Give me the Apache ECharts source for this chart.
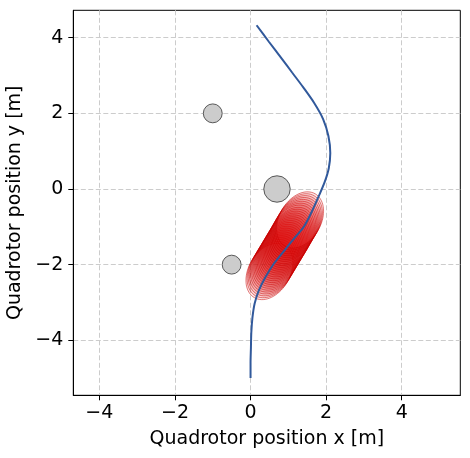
<!DOCTYPE html>
<html>
<head>
<meta charset="utf-8">
<script src="https://cdn.jsdelivr.net/npm/echarts@6/dist/echarts.min.js"></script>
<style>
html,body{margin:0;padding:0;background:#fff;}
#c{width:470px;height:458px;}
</style>
</head>
<body>
<div id="c"></div>
<script>
// Tick values
var xTicks = [-4, -2, 0, 2, 4];
var yTicks = [-4, -2, 0, 2, 4];

// Obstacles: [x, y, radius]
var obstacles = [
  [-1.0, 2.0, 0.25],
  [0.7, 0.0, 0.35],
  [-0.5, -2.0, 0.25]
];

// Trajectory (x, y)
var trajectory = [
  [0.00,-5.00],[0.00,-4.60],[0.01,-4.20],[0.02,-3.80],[0.05,-3.40],[0.11,-3.02],
  [0.22,-2.68],[0.40,-2.32],[0.62,-1.97],[0.90,-1.62],[1.16,-1.30],[1.41,-1.00],
  [1.62,-0.60],[1.80,-0.20],[1.96,0.18],[2.07,0.55],[2.11,0.95],[2.06,1.40],
  [1.92,1.85],[1.68,2.28],[1.40,2.68],[1.10,3.08],[0.80,3.48],[0.48,3.90],[0.16,4.33]
];

// Uncertainty ellipses: centers
var ellipseCenters = [
  [0.50,-2.18],[0.53,-2.13],[0.56,-2.08],[0.59,-2.03],[0.62,-1.98],[0.65,-1.93],
  [0.68,-1.88],[0.71,-1.83],[0.74,-1.78],[0.77,-1.73],[0.80,-1.68],[0.83,-1.63],
  [0.86,-1.58],[0.89,-1.53],[0.92,-1.48],[0.95,-1.43],[0.98,-1.38],[1.01,-1.33],
  [1.04,-1.28],[1.07,-1.23],[1.10,-1.17],[1.13,-1.12],[1.16,-1.07],[1.19,-1.02],
  [1.22,-0.97],[1.25,-0.92],[1.28,-0.87],[1.31,-0.82]
];
// Ellipse semi-axes and orientation (degrees from x axis)
var ellipseA = 0.80;
var ellipseB = 0.55;
var ellipseAngle = 60;

var ellipseData = ellipseCenters.map(function (c) { return [c[0], c[1], ellipseA, ellipseB, ellipseAngle]; });

function fmt(v) { return v < 0 ? '\u2212' + Math.abs(v) : String(v); }

var FONT = 'DejaVu Sans';
var FS = 19;
var chart = echarts.init(document.getElementById('c'), null, {renderer: 'canvas'});

function ellipseRender(params, api) {
  var cx = api.value(0), cy = api.value(1), a = api.value(2), b = api.value(3), ang = api.value(4) * Math.PI / 180;
  var pts = [];
  var n = 72;
  for (var i = 0; i < n; i++) {
    var t = 2 * Math.PI * i / n;
    var ex = a * Math.cos(t), ey = b * Math.sin(t);
    var x = cx + ex * Math.cos(ang) - ey * Math.sin(ang);
    var y = cy + ex * Math.sin(ang) + ey * Math.cos(ang);
    pts.push(api.coord([x, y]));
  }
  return {
    type: 'polygon',
    shape: {points: pts},
    style: {fill: 'rgba(220,15,15,0.09)', stroke: 'rgba(200,0,0,0.85)', lineWidth: 0.6}
  };
}

function circleRender(params, api) {
  var c = api.coord([api.value(0), api.value(1)]);
  var r = api.size([api.value(2), 0])[0];
  return {
    type: 'circle',
    shape: {cx: c[0], cy: c[1], r: r},
    style: {fill: '#cccccc', stroke: '#333333', lineWidth: 0.8}
  };
}

var axisCommon = {
  type: 'value',
  axisLine: {show: true, onZero: false, lineStyle: {color: '#000', width: 1}},
  splitLine: {show: true, lineStyle: {color: '#cccccc', width: 1, type: [5, 2.5]}},
  nameTextStyle: {fontFamily: FONT, fontSize: FS, color: '#000'},
  nameLocation: 'middle'
};

chart.setOption({
  animation: false,
  backgroundColor: '#fff',
  grid: {left: 73.3, right: 9.7, top: 10.3, bottom: 62.7, containLabel: false, outerBoundsMode: 'none',
         show: true, borderColor: '#000', borderWidth: 1, backgroundColor: 'transparent'},
  xAxis: Object.assign({}, axisCommon, {
    min: -4.69, max: 5.55,
    name: 'Quadrotor position x [m]', nameGap: 34,
    axisTick: {show: true, length: 5, lineStyle: {color: '#000', width: 1}, customValues: xTicks},
    axisLabel: {customValues: xTicks, formatter: fmt, fontFamily: FONT, fontSize: FS, color: '#000', margin: 8}
  }),
  yAxis: Object.assign({}, axisCommon, {
    min: -5.455, max: 4.725,
    name: 'Quadrotor position y [m]', nameGap: 42,
    axisTick: {show: true, length: 5, lineStyle: {color: '#000', width: 1}, customValues: yTicks},
    axisLabel: {customValues: yTicks, formatter: fmt, fontFamily: FONT, fontSize: FS, color: '#000', margin: 10}
  }),
  series: [
    {type: 'custom', renderItem: ellipseRender, data: ellipseData, z: 2, silent: true},
    {type: 'custom', renderItem: circleRender, data: obstacles, z: 3, silent: true},
    {type: 'line', data: trajectory, smooth: 0.3, showSymbol: false, z: 4,
     lineStyle: {color: '#31599b', width: 2}}
  ]
});
</script>
</body>
</html>
